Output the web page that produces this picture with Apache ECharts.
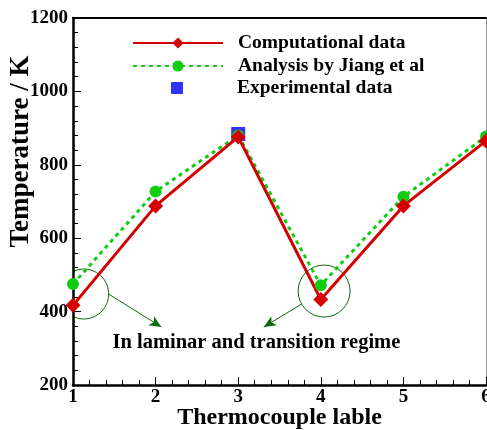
<!DOCTYPE html>
<html><head><meta charset="utf-8">
<script src="https://cdn.jsdelivr.net/npm/echarts@6/dist/echarts.min.js"></script>
<style>html,body{margin:0;padding:0;background:#fff}#c{width:487px;height:430px}</style>
</head><body><div id="c"></div>
<script>
// ---- data ----
const thermocouples = [1, 2, 3, 4, 5, 6];
const computational = [417, 688, 876, 433, 688, 865];
const jiang = [475, 727, 880, 472, 713, 877];
const experimentalX = [3];
const experimental = [884];
const seriesNames = ['Computational data', 'Analysis by Jiang et al', 'Experimental data'];
const annotationText = 'In laminar and transition regime';
// annotation anchors in data coordinates
const circleCenters = [[1.13, 448], [4.04, 456]];
const circleRadiusPx = [25, 26];
const arrows = [[[1.43, 448], [2.07, 358]], [[3.77, 421], [3.31, 358]]];
const textAnchor = [3.22, 315];

const FONT = 'Liberation Serif, Times New Roman, serif';
const chart = echarts.init(document.getElementById('c'), null, {renderer: 'canvas'});
const zip = (xs, ys) => xs.map((x, i) => [x, ys[i]]);

const axisCommon = {
  axisLine: {lineStyle: {color: '#000', width: 2.5}},
  axisTick: {inside: true, length: 8, lineStyle: {color: '#000', width: 1}},
  minorTick: {show: true, splitNumber: 5, length: 5, lineStyle: {color: '#000', width: 1}},
  splitLine: {show: false},
  axisLabel: {color: '#000', fontFamily: FONT, fontWeight: 'bold', fontSize: 19, formatter: v => String(v)}
};

chart.setOption({
  animation: false,
  backgroundColor: '#fff',
  grid: {left: 73, top: 18, right: 1, bottom: 45, containLabel: false, outerBoundsMode: 'none'},
  legend: [{
    data: [seriesNames[0], seriesNames[1]],
    orient: 'vertical', left: 132, top: 32, padding: 0,
    itemWidth: 90, itemHeight: 14, itemGap: 1,
    selectedMode: false,
    textStyle: {color: '#000', fontFamily: FONT, fontWeight: 'bold', fontSize: 19.5, lineHeight: 22, padding: [0, 0, 0, 10]}
  }, {
    data: [seriesNames[2]],
    orient: 'vertical', left: 171, top: 77, padding: 0,
    itemWidth: 12, itemHeight: 12, icon: 'rect',
    selectedMode: false,
    textStyle: {color: '#000', fontFamily: FONT, fontWeight: 'bold', fontSize: 19.5, lineHeight: 22, padding: [0, 0, 0, 49]}
  }],
  xAxis: [Object.assign({}, axisCommon, {
    type: 'value', min: 1, max: 6, interval: 1,
    name: 'Thermocouple lable', nameLocation: 'middle', nameGap: 21, nameMoveOverlap: false,
    nameTextStyle: {color: '#000', fontFamily: FONT, fontWeight: 'bold', fontSize: 24},
    axisLabel: Object.assign({}, axisCommon.axisLabel, {margin: 3})
  }), {
    type: 'value', min: 1, max: 6, position: 'top', gridIndex: 0,
    axisLine: {show: true, lineStyle: {color: '#000', width: 2}},
    axisTick: {show: false}, axisLabel: {show: false}, splitLine: {show: false}
  }],
  yAxis: [Object.assign({}, axisCommon, {
    type: 'value', min: 200, max: 1200, interval: 200,
    name: 'Temperature / K', nameLocation: 'middle', nameGap: 38, nameMoveOverlap: false,
    nameTextStyle: {color: '#000', fontFamily: FONT, fontWeight: 'bold', fontSize: 27, padding: [0, 0, 0, 100]},
    axisLabel: Object.assign({}, axisCommon.axisLabel, {margin: 5})
  }), {
    type: 'value', min: 200, max: 1200, position: 'right',
    axisLine: {show: true, lineStyle: {color: '#999', width: 1}},
    axisTick: {show: false}, axisLabel: {show: false}, splitLine: {show: false}
  }],
  series: [{
    name: seriesNames[1], type: 'line', data: zip(thermocouples, jiang),
    symbol: 'circle', symbolSize: 12, clip: false,
    lineStyle: {color: '#11cc11', width: 3, type: [4, 4]},
    itemStyle: {color: '#11cc11'},
    emphasis: {disabled: true},
    markLine: {
      silent: true, symbol: ['none', 'arrow'], symbolSize: [8, 12],
      label: {show: false},
      lineStyle: {color: '#0b6a0b', width: 1, type: 'solid'},
      emphasis: {disabled: true},
      data: arrows.map(a => [{coord: a[0]}, {coord: a[1]}])
    }
  }, {
    name: seriesNames[0], type: 'line', data: zip(thermocouples, computational),
    symbol: 'diamond', symbolSize: 15, clip: false,
    lineStyle: {color: '#d40000', width: 3},
    itemStyle: {color: '#d40000'},
    emphasis: {disabled: true}
  }, {
    name: seriesNames[2], type: 'scatter', data: zip(experimentalX, experimental),
    symbol: 'rect', symbolSize: 14,
    itemStyle: {color: '#3333ff', opacity: 1},
    emphasis: {disabled: true}
  }]
});

// annotations positioned through the axes' scales
const px = p => chart.convertToPixel({gridIndex: 0}, p);
const axisLeft = px([1, 200])[0];
const graphics = [];
circleCenters.forEach((c, i) => {
  const [cx, cy] = px(c);
  const r = circleRadiusPx[i];
  let s = 0, e = Math.PI * 2;
  if (cx - r < axisLeft) {
    const a = Math.acos((axisLeft - cx) / r);
    s = -a; e = a;
  }
  graphics.push({
    type: 'arc', silent: true,
    shape: {cx, cy, r, startAngle: s, endAngle: e, clockwise: true},
    style: {stroke: '#0b6a0b', lineWidth: 1, fill: null}
  });
});
const [tx, ty] = px(textAnchor);
graphics.push({
  type: 'text', silent: true, x: tx, y: ty,
  style: {text: annotationText, fill: '#000', font: 'bold 20.5px ' + FONT, align: 'center', verticalAlign: 'middle'}
});
chart.setOption({graphic: graphics});
</script>
</body></html>
